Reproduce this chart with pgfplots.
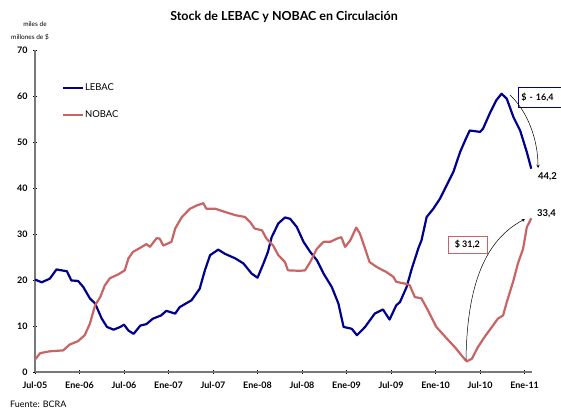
\documentclass[border=0pt]{standalone}
\usepackage{fontspec}
\setmainfont{Lato}
\usepackage{pgfplots}
\pgfplotsset{compat=1.18}
\definecolor{lebac}{RGB}{0,0,140}
\definecolor{nobac}{RGB}{200,100,100}
\definecolor{axgray}{RGB}{120,120,120}
\begin{document}
\begin{tikzpicture}
\begin{axis}[
  scale only axis, width=497bp, height=322bp,
  xmin=0, xmax=67, ymin=0, ymax=70,
  axis x line=bottom, axis y line=left,
  axis line style={-, draw=axgray, line width=1.3bp},
  xtick={0,6,...,66},
  xticklabels={Jul-05,Ene-06,Jul-06,Ene-07,Jul-07,Ene-08,Jul-08,Ene-09,Jul-09,Ene-10,Jul-10,Ene-11},
  ytick={0,10,...,70},
  tick style={black, line width=0.6bp},
  major tick length=4bp,
  tick align=center,
  ticklabel style={font=\bfseries\fontsize{9}{10}\selectfont},
  /pgf/number format/assume math mode=true,
  xticklabel style={yshift=-4bp},
  yticklabel style={xshift=-2bp},
  clip=false,
  legend style={at={(rel axis cs:0.054,0.90)}, anchor=north west, draw=none, fill=none,
    font=\fontsize{9.5}{11}\selectfont, row sep=17bp, inner sep=0pt,
    nodes={inner sep=1bp}},
  legend cell align=left,
  legend image code/.code={\draw[#1, line width=2bp] (0bp,0bp) -- (20bp,0bp);},
]
\addplot[lebac, line width=2.2bp, line join=round] coordinates {
(0,20.1) (0.9,19.5) (2,20.3) (2.9,22.3) (4.3,21.9) (4.9,19.9) (5.8,19.8) (6.5,18.5)
(7.4,16.0) (8.1,14.9) (9.0,11.6) (9.7,9.8) (10.6,9.2) (11.5,9.8) (12.0,10.3) (12.6,9.0)
(13.3,8.3) (14.2,10.1) (15.0,10.4) (15.9,11.6) (17.0,12.3) (17.7,13.3) (18.9,12.7)
(19.5,14.1) (21.1,15.6) (22.2,18.1) (22.9,22.1) (23.6,25.4) (24.7,26.6) (25.6,25.7)
(27.0,24.7) (28.1,23.6) (29.2,21.4) (30.0,20.5) (30.8,23.6) (31.4,26.1) (31.9,29.3)
(32.8,32.3) (33.7,33.6) (34.4,33.3) (35.3,31.5) (36.2,28.3) (37.1,26.1) (38.0,24.3)
(38.9,21.4) (40.0,18.5) (40.9,14.9) (41.6,9.8) (42.7,9.4) (43.4,8.0) (44.5,9.8)
(45.8,12.7) (46.9,13.6) (47.8,11.4) (48.7,14.5) (49.2,15.2) (50.1,18.5) (50.8,22.5)
(51.7,27.0) (52.1,28.6) (52.8,33.7) (53.7,35.5) (54.6,37.7) (55.5,40.6) (56.4,43.5)
(57.3,47.8) (58.0,50.4) (58.6,52.5) (60.0,52.2) (60.4,52.9) (61.3,56.2) (62.2,59.1)
(62.9,60.5) (63.6,59.4) (64.5,55.4) (65.4,52.5) (66.3,47.8) (66.9,44.2)
};
\addlegendentry{LEBAC}
\addplot[nobac, line width=2.2bp, line join=round] coordinates {
(0,2.7) (0.7,4.1) (2,4.5) (3.8,4.7) (4.7,6.0) (5.8,6.7) (6.7,8.0) (7.4,10.5) (8.1,14.5)
(8.8,16.3) (9.4,18.8) (10.1,20.4) (11.2,21.2) (12.1,22.1) (12.6,24.7) (13.2,26.1)
(14.4,27.2) (15.0,27.8) (15.5,27.2) (16.4,29.1) (16.8,29.0) (17.3,27.5) (18.4,28.3)
(18.9,31.2) (19.8,33.7) (20.9,35.5) (21.8,36.2) (22.7,36.7) (23.1,35.5) (24.3,35.5)
(25.6,34.8) (27.0,34.1) (28.3,33.7) (29.0,32.6) (29.6,31.2) (30.6,30.8) (31.2,29.0)
(32.1,27.5) (32.8,25.4) (33.7,23.9) (34.1,22.1) (35.7,22.0) (36.4,22.1) (37.1,23.9)
(38.0,26.8) (38.9,28.3) (39.8,28.3) (40.7,29.0) (41.3,29.3) (41.8,27.2) (42.5,28.6)
(43.3,31.4) (43.8,30.1) (44.5,26.8) (45.1,23.9) (46.1,22.8) (47.4,21.7) (48.3,20.7)
(48.7,19.6) (49.9,19.2) (50.5,18.9) (51.2,16.3) (52.1,16.0) (53.2,12.7) (54.1,9.8)
(55.5,7.3) (56.6,5.4) (57.5,3.6) (58.2,2.3) (58.9,2.9) (59.7,5.4) (60.6,7.6) (61.6,9.8)
(62.4,11.6) (63.1,12.3) (63.6,15.2) (64.5,19.9) (65.1,23.6) (65.8,26.8) (66.3,31.5)
(66.9,33.4)
};
\addlegendentry{NOBAC}
\coordinate (O) at (rel axis cs:0,0);
\end{axis}
\begin{scope}[shift={(O)}, xshift=-35bp, yshift=372bp, x=1bp, y=-1bp]
\node[font=\bfseries\fontsize{12.5}{14}\selectfont] at (284,17) {Stock de LEBAC y NOBAC en Circulación};
\node[font=\fontsize{6.5}{7}\selectfont] at (35,24) {miles de};
\node[font=\fontsize{6.5}{7}\selectfont] at (30,37) {millones de \$};
\node[font=\fontsize{9}{10}\selectfont, anchor=west, inner sep=0pt] at (10,404) {Fuente: BCRA};
\node[draw=lebac, line width=0.8bp, fill=white, font=\bfseries\fontsize{9}{10}\selectfont, anchor=west,
  minimum height=20bp, minimum width=46bp, inner xsep=2.5bp, align=left, text width=40bp] at (518,97) {\$ - 16,4};
\node[draw=nobac, line width=0.8bp, fill=white, font=\bfseries\fontsize{9}{10}\selectfont, anchor=west,
  minimum height=17bp, minimum width=39bp, inner xsep=3bp] at (447.5,244.6) {\$ 31,2};
\node[font=\bfseries\fontsize{9.5}{10}\selectfont, anchor=west, inner sep=0pt] at (538,177) {44,2};
\node[font=\bfseries\fontsize{9.5}{10}\selectfont, anchor=west, inner sep=0pt] at (537,214) {33,4};
\draw[-stealth, line width=0.5bp] (510,95) .. controls (528,112) and (538,140) .. (538,168);
\draw[-stealth, line width=0.5bp] (466,360) .. controls (467,285) and (485,240) .. (525,219);
\pgfresetboundingbox
\useasboundingbox (0,0) rectangle (561,409);
\end{scope}
\end{tikzpicture}
\end{document}
